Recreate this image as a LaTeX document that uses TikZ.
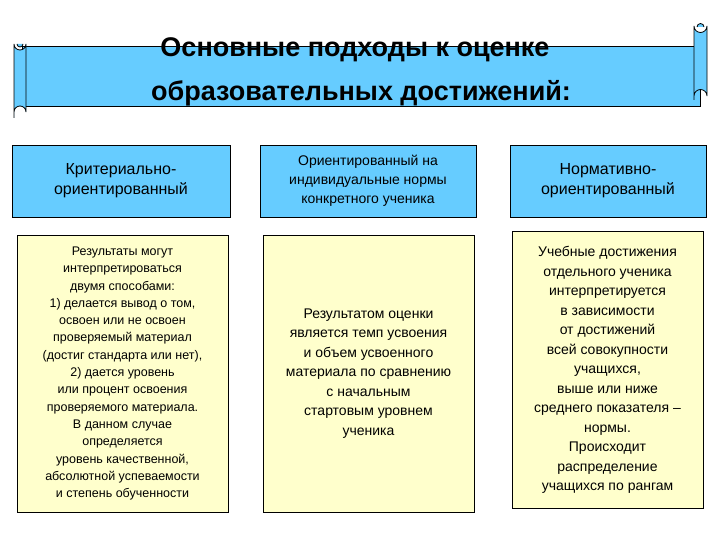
\documentclass[tikz,border=0pt]{standalone}
\usepackage{fontspec}
\setmainfont{Liberation Sans}
\definecolor{sky}{RGB}{102,204,255}
\definecolor{pale}{RGB}{255,255,204}
\begin{document}
\begin{tikzpicture}[x=1pt,y=-1pt,
 hdr/.style={draw=black,fill=sky,line width=0.8pt,align=center,font=\fontsize{16}{20}\selectfont,inner sep=0},
 body/.style={draw=black,fill=pale,line width=0.6pt,align=center,font=\fontsize{12.5}{17.3}\selectfont,inner sep=0},
 ban/.style={draw=black,fill=sky,line width=0.8pt}]
\useasboundingbox (0,0) rectangle (720,540);
% banner
\draw[ban] (22,46) -- (700,46) -- (700,106) -- (22,106) -- cycle;
\draw[ban] (14,118) -- (14,44) arc(180:0:6) -- (26,112) arc(0:-180:6);
\draw[ban] (17,44) arc(180:0:3);
\draw[ban] (694,100) -- (694,26) arc(180:0:6.5) -- (707,96) arc(0:-180:6.5);
\draw[ban] (697,27) arc(180:360:3.5);
\node[font=\fontsize{27}{30}\selectfont\bfseries] (t1) at (355,50) {Основные подходы к оценке};
\node[font=\fontsize{27}{30}\selectfont\bfseries] (t2) at (361,93) {образовательных достижений:};
% headers
\node[hdr,minimum width=218,minimum height=72] (h1) at (121,181) {Критериально-\\ориентированный};
\node[hdr,minimum width=216,minimum height=72,font=\fontsize{14}{19}\selectfont] (h2) at (368,181) {Ориентированный на\\индивидуальные нормы\\конкретного ученика};
\node[hdr,minimum width=196,minimum height=72] (h3) at (608,181) {Нормативно-\\ориентированный};
% bodies
\node[body,minimum width=211,minimum height=277] (b1) at (122.5,373.5) {Результаты могут\\интерпретироваться\\двумя способами:\\1) делается вывод о том,\\освоен или не освоен\\проверяемый материал\\(достиг стандарта или нет),\\2) дается уровень\\или процент освоения\\проверяемого материала.\\В данном случае\\определяется\\уровень качественной,\\абсолютной успеваемости\\и степень обученности};
\node[body,minimum width=211,minimum height=277,font=\fontsize{14}{19.5}\selectfont] (b2) at (368.5,373.5) {Результатом оценки\\является темп усвоения\\и объем усвоенного\\материала по сравнению\\с начальным\\стартовым уровнем\\ученика};
\node[body,minimum width=191,minimum height=277,font=\fontsize{14}{19.5}\selectfont] (b3) at (607.5,370) {Учебные достижения\\отдельного ученика\\интерпретируется\\в зависимости\\от достижений\\всей совокупности\\учащихся,\\выше или ниже\\среднего показателя --\\нормы.\\Происходит\\распределение\\учащихся по рангам};
\end{tikzpicture}
\end{document}
